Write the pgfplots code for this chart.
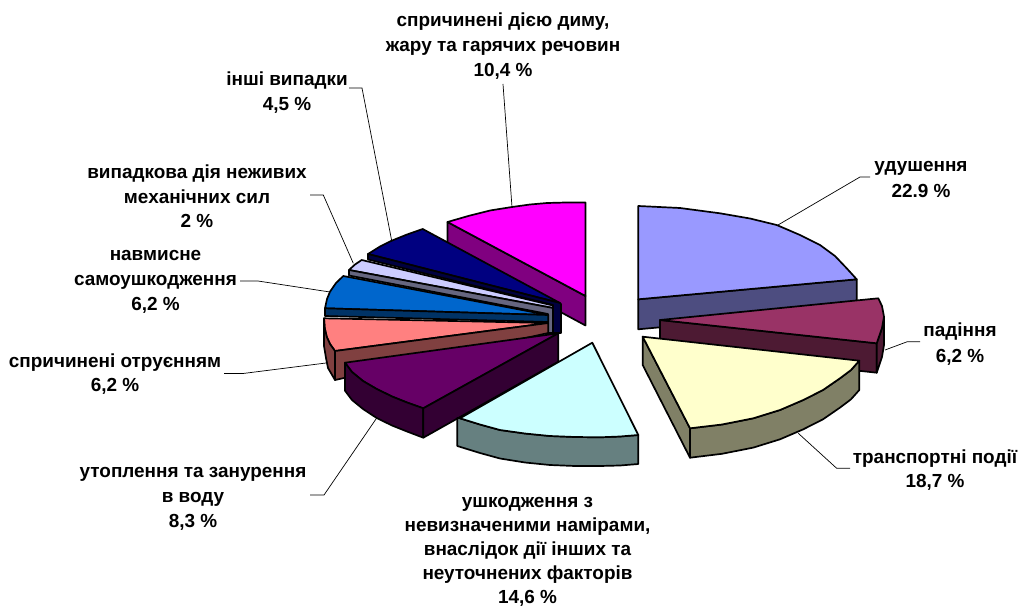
\documentclass[border=0pt]{standalone}
\usepackage{fontspec}
\setmainfont{Liberation Sans}
\usepackage{pgfplots}
\pgfplotsset{compat=1.18}
\definecolor{cA}{HTML}{9999FF}\definecolor{sA}{HTML}{4D4D80}
\definecolor{cB}{HTML}{993366}\definecolor{sB}{HTML}{4D1A33}
\definecolor{cC}{HTML}{FFFFCC}\definecolor{sC}{HTML}{808066}
\definecolor{cD}{HTML}{CCFFFF}\definecolor{sD}{HTML}{668080}
\definecolor{cE}{HTML}{660066}\definecolor{sE}{HTML}{330033}
\definecolor{cF}{HTML}{FF8080}\definecolor{sF}{HTML}{804040}
\definecolor{cG}{HTML}{0066CC}\definecolor{sG}{HTML}{003366}
\definecolor{cH}{HTML}{CCCCFF}\definecolor{sH}{HTML}{666680}
\definecolor{cI}{HTML}{000080}\definecolor{sI}{HTML}{000040}
\definecolor{cJ}{HTML}{FF00FF}\definecolor{sJ}{HTML}{800080}
\tikzset{
  slice/.style={draw=black, line width=1.7bp, line join=round, mark=none, fill=#1},
  leader/.style={draw=black, line width=0.7bp, mark=none},
  lab/.style={align=center, inner sep=0pt, font=\fontsize{19}{#1}\selectfont\bfseries, text=black},
  lab/.default=24.7,
}
\begin{document}
\begin{tikzpicture}
\path[use as bounding box] (0,0) rectangle (1021bp,606bp);
\begin{axis}[
  at={(0,0)}, anchor=south west,
  scale only axis, width=1021bp, height=606bp,
  xmin=0, xmax=1021, ymin=0, ymax=606, y dir=reverse,
  axis lines=none, clip=false,
]
% magenta
\addplot[slice=sJ] coordinates {(447.5,222)(585.5,296)(585.5,325.5)(447.5,251)} -- cycle;
\addplot[slice=cJ] coordinates {(585.5,296)(447.5,222)(470,215.5)(490,210.5)(512,207)(530,204.5)(547,203)(566,202.5)(585.5,202.5)} -- cycle;
% lavender (back part) and navy
\addplot[slice=cI] coordinates {(560,303)(368,254)(380,246.5)(391.7,240.7)(407,234.5)(422.7,229)} -- cycle;
\addplot[slice=sI] coordinates {(368,254)(368,259.5)(553,305)(553,333)(561,333)(561,304)(560,303)} -- cycle;
% lavender
\addplot[slice=cH] coordinates {(553,308)(349,270)(355,264.5)(361.7,260)(553,305.5)} -- cycle;
\addplot[slice=sH] coordinates {(349,270)(349,275.5)(548,314)(548,333)(553,333)(553,308)} -- cycle;
% blue
\addplot[slice=cG] coordinates {(548.3,315)(325,308.3)(327,299)(330,291.7)(336,283)(343.3,276)} -- cycle;
\addplot[slice=sG] coordinates {(325,308.3)(325,316)(548.3,322)(548.3,315)} -- cycle;
% salmon
\addplot[slice=cF] coordinates {(548.3,323)(324,318.3)(324.7,328)(326.7,336.7)(330,344)(335,351)} -- cycle;
\addplot[slice=sF] coordinates {(335,351)(335,380)(548.3,333)(548.3,323)} -- cycle;
\addplot[slice=sF] coordinates {(324,318.3)(324,346)(326,358)(328,368)(335,380)(335,351)(330,344)(326.7,336.7)(324.7,328)} -- cycle;
% purple
\addplot[slice=cE] coordinates {(345,362.7)(352,372)(363,381)(376.7,389)(392,396.5)(407,402.5)(423.3,408.3)(558.3,333.3)} -- cycle;
\addplot[slice=sE] coordinates {(345,362.7)(345,390.7)(352,400)(363,409)(376.7,418)(392,425.5)(407,431.5)(423.3,437.7)(423.3,408.3)(407,402.5)(392,396.5)(376.7,389)(363,381)(352,372)} -- cycle;
\addplot[slice=sE] coordinates {(423.3,408.3)(558.3,333.3)(558.3,361.7)(423.3,437.7)} -- cycle;
% cyan
\addplot[slice=sD] coordinates {(457.3,418)(457.3,446)(480,453)(500,458.5)(525,462.5)(550,465)(575,466)(600,466)(620,465.5)(638.3,464)(638.3,435)(620,436.5)(600,437.3)(575,437)(550,436)(525,433.5)(500,430)(480,424.5)(460,418.3)} -- cycle;
\addplot[slice=cD] coordinates {(592.3,342.7)(638.3,435)(620,436.5)(600,437.3)(575,437)(550,436)(525,433.5)(500,430)(480,424.5)(460,418.3)} -- cycle;
% lilac
\addplot[slice=sA] coordinates {(638.3,299.3)(856.7,279.3)(856.7,309.3)(638.3,329.3)} -- cycle;
\addplot[slice=cA] coordinates {(638.3,299.3)(638.3,206)(680,208)(720,213.3)(750,218.5)(776.7,225)(800,235)(820,245)(835,256)(846.7,268.3)(856.7,279.3)} -- cycle;
% maroon
\addplot[slice=sB] coordinates {(660,320)(660,349)(876.7,372.7)(876.7,343.3)} -- cycle;
\addplot[slice=sB] coordinates {(876.7,343.3)(876.7,372.7)(882,357)(884,345)(884,316.7)(882,328)} -- cycle;
\addplot[slice=cB] coordinates {(660,320)(878.3,298.3)(882,306)(884,316.7)(882,328)(876.7,343.3)} -- cycle;
% yellow
\addplot[slice=sC] coordinates {(642.7,336.7)(642.7,365)(690,457.7)(690,428.3)} -- cycle;
\addplot[slice=sC] coordinates {(690,428.3)(690,457.7)(722,453.8)(753.3,447.6)(780,439.3)(803.3,429.3)(823,419.3)(840,407.6)(851,399.3)(859.3,390)(859.3,360.7)(851,370)(840,378.3)(823,390)(803.3,400)(780,410)(753.3,418.3)(722,424.5)} -- cycle;
\addplot[slice=cC] coordinates {(642.7,336.7)(859.3,360.7)(851,370)(840,378.3)(823,390)(803.3,400)(780,410)(753.3,418.3)(722,424.5)(690,428.3)} -- cycle;
% leader lines
\addplot[leader] coordinates {(503,84)(512,207)};
\addplot[leader] coordinates {(349,88)(362,88)(391.7,240.7)};
\addplot[leader] coordinates {(310,195)(323.3,195)(353.3,263.3)};
\addplot[leader] coordinates {(240,281)(258,281)(330,292)};
\addplot[leader] coordinates {(224,373.5)(243,373.5)(326,363)};
\addplot[leader] coordinates {(310,495)(324,495)(376.7,418)};
\addplot[leader] coordinates {(850,468.3)(836.7,468.3)(798.3,433.3)};
\addplot[leader] coordinates {(920,341.7)(907.3,341.7)(885,350)};
\addplot[leader] coordinates {(870,177)(860,177)(778,225)};
% labels
\node[lab] at (axis cs:503,46) {спричинені дією диму,\\жару та гарячих речовин\\10,4 \%};
\node[lab] at (axis cs:287,92.5) {інші випадки\\4,5 \%};
\node[lab] at (axis cs:197,196.5) {випадкова дія неживих\\механічних сил\\2 \%};
\node[lab=25.2] at (axis cs:155.5,281.5) {навмисне\\самоушкодження\\6,2 \%};
\node[lab] at (axis cs:115,374) {спричинені отруєнням\\6,2 \%};
\node[lab=25.4] at (axis cs:193,499) {утоплення та занурення\\в воду\\8,3 \%};
\node[lab=24] at (axis cs:527.5,552) {ушкодження з\\невизначеними намірами,\\внаслідок дії інших та\\неуточнених факторів\\14,6 \%};
\node[lab] at (axis cs:935,470) {транспортні події\\18,7 \%};
\node[lab=25.4] at (axis cs:960,344) {падіння\\6,2 \%};
\node[lab=26] at (axis cs:921,179.5) {удушення\\22.9 \%};
\end{axis}
\end{tikzpicture}
\end{document}
